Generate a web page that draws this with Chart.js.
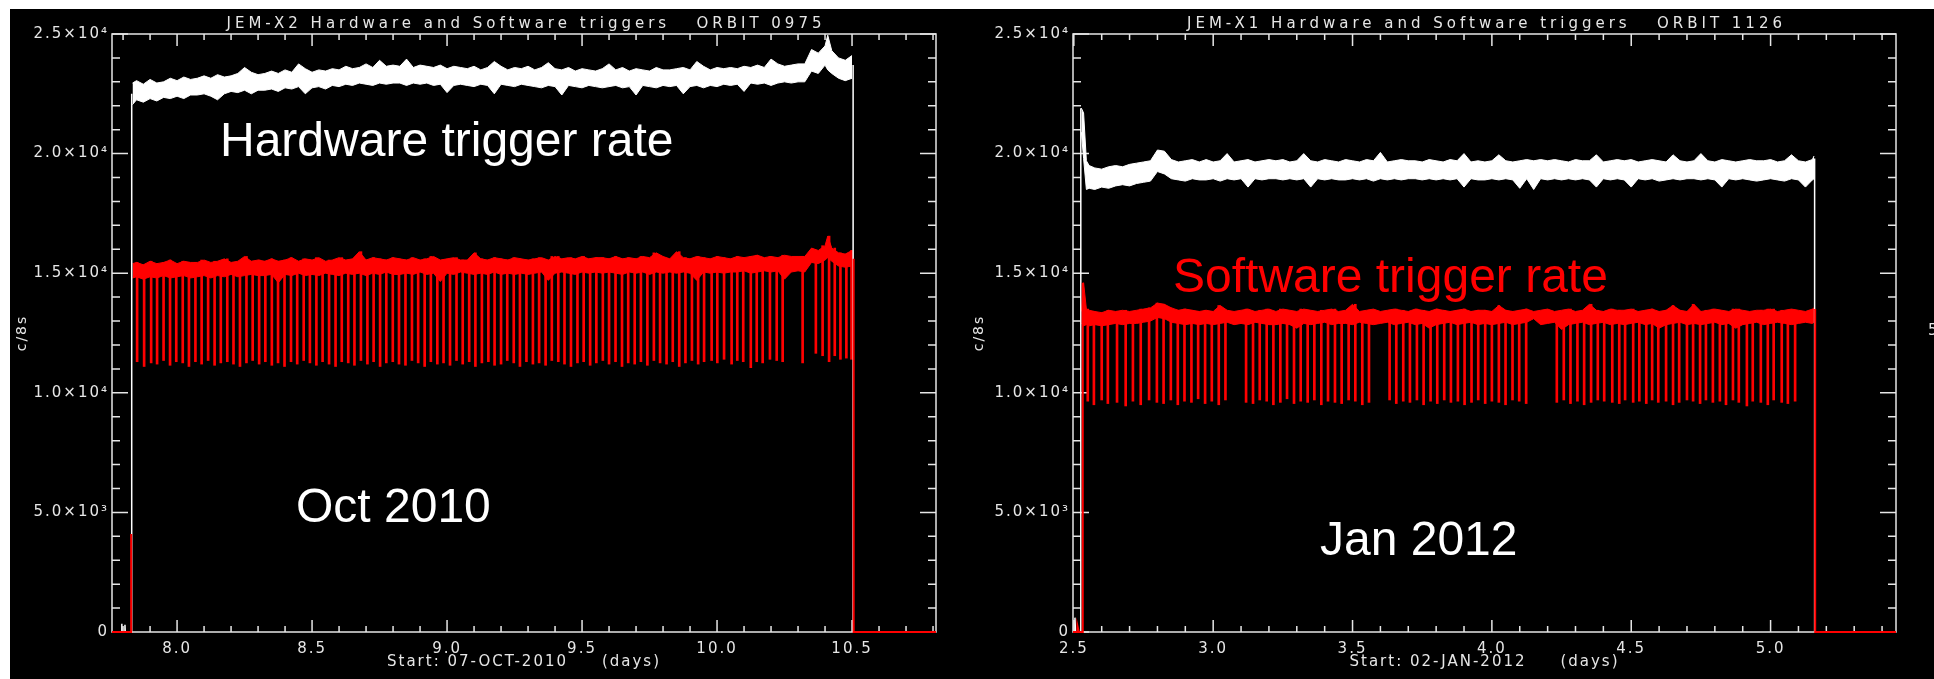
<!DOCTYPE html>
<html>
<head>
<meta charset="utf-8">
<script src="https://cdn.jsdelivr.net/npm/chart.js@4/dist/chart.umd.min.js"></script>
<style>
  html, body { margin: 0; padding: 0; background: #fff; width: 1934px; height: 679px; overflow: hidden; position: relative; font-family: 'Liberation Sans', Arial, sans-serif; }
  .panel-bg { position: absolute; left: 10px; top: 9px; right: 0; bottom: 0; background: #000; }
  canvas { position: absolute; }
  .note { position: absolute; font-size: 48px; line-height: 48px; white-space: nowrap; color: #fff; }
  .cut { position: absolute; left: 1928px; top: 321px; font: 15px 'DejaVu Sans', sans-serif; color: #e6e6e6; }
</style>
</head>
<body>
<div class="panel-bg"></div>
<canvas id="leftChart" width="957" height="670" style="left:10px;top:9px"></canvas>
<canvas id="rightChart" width="967" height="670" style="left:967px;top:9px"></canvas>
<div class="note" style="left:220px;top:116px">Hardware trigger rate</div>
<div class="note" style="left:296px;top:482px">Oct 2010</div>
<div class="note" style="left:1173px;top:252px;color:#ff0000">Software trigger rate</div>
<div class="note" style="left:1320px;top:515px">Jan 2012</div>
<div class="cut">5</div>
<script>
// ---- left panel: JEM-X2, orbit 0975 ----
const leftDays = [
  7.835, 7.85, 7.875, 7.9, 7.925, 7.95, 7.975, 8.0, 8.025, 8.05,
  8.075, 8.1, 8.125, 8.15, 8.175, 8.2, 8.225, 8.25, 8.275, 8.3,
  8.325, 8.35, 8.375, 8.4, 8.425, 8.45, 8.475, 8.5, 8.525, 8.55,
  8.575, 8.6, 8.625, 8.65, 8.675, 8.7, 8.725, 8.75, 8.775, 8.8,
  8.825, 8.85, 8.875, 8.9, 8.925, 8.95, 8.975, 9.0, 9.025, 9.05,
  9.075, 9.1, 9.125, 9.15, 9.175, 9.2, 9.225, 9.25, 9.275, 9.3,
  9.325, 9.35, 9.375, 9.4, 9.425, 9.45, 9.475, 9.5, 9.525, 9.55,
  9.575, 9.6, 9.625, 9.65, 9.675, 9.7, 9.725, 9.75, 9.775, 9.8,
  9.825, 9.85, 9.875, 9.9, 9.925, 9.95, 9.975, 10.0, 10.025, 10.05,
  10.075, 10.1, 10.125, 10.15, 10.175, 10.2, 10.225, 10.25, 10.275, 10.3,
  10.325, 10.35, 10.375, 10.4, 10.41, 10.425, 10.45, 10.475, 10.5
];
const leftHwHi = [
  22950, 23050, 22900, 23100, 22950, 23000, 23150, 23050, 23200, 23100,
  23150, 23250, 23150, 23300, 23200, 23250, 23350, 23600, 23400, 23300,
  23350, 23450, 23350, 23500, 23400, 23750, 23550, 23400, 23500, 23450,
  23550, 23500, 23650, 23550, 23600, 23750, 23600, 23900, 23650, 23700,
  23650, 23950, 23600, 23700, 23650, 23600, 23700, 23550, 23650, 23600,
  23550, 23650, 23500, 23600, 23850, 23650, 23500, 23600, 23550, 23650,
  23500, 23600, 23800, 23550, 23500, 23600, 23450, 23550, 23500, 23450,
  23550, 23750, 23500, 23600, 23450, 23550, 23500, 23450, 23600, 23500,
  23500, 23550, 23600, 23500, 23850, 23650, 23500, 23600, 23550, 23600,
  23550, 23650, 23600, 23700, 23600, 23950, 23750, 23650, 23700, 23750,
  23750, 24350, 24200, 24500, 24950, 24300, 24000, 23900, 24100
];
const leftHwLo = [
  22050, 22250, 22150, 22300, 22200, 22350, 22300, 22400, 22300, 22450,
  22450, 22500, 22400, 22250, 22500, 22600, 22550, 22650, 22500, 22650,
  22650, 22700, 22600, 22750, 22700, 22800, 22500, 22750, 22800, 22700,
  22850, 22800, 22900, 22850, 22950, 22900, 22850, 22950, 22900, 22950,
  22950, 22850, 22950, 22900, 22950, 22850, 22900, 22550, 22850, 22900,
  22850, 22800, 22900, 22850, 22500, 22900, 22850, 22800, 22900, 22850,
  22800, 22750, 22850, 22800, 22450, 22850, 22800, 22750, 22850, 22800,
  22750, 22800, 22850, 22750, 22800, 22450, 22850, 22800, 22750, 22850,
  22800, 22850, 22500, 22800, 22850, 22750, 22850, 22800, 22900, 22850,
  22900, 22600, 22950, 22900, 22950, 22850, 22950, 23000, 22950, 23000,
  23000, 23450, 23350, 23700, 23500, 23350, 23150, 23050, 23150
];
const leftSwHi = [
  15400, 15450, 15350, 15500, 15400, 15450, 15550, 15400, 15500, 15450,
  15450, 15550, 15450, 15500, 15600, 15450, 15500, 15700, 15500, 15550,
  15500, 15600, 15500, 15550, 15650, 15500, 15600, 15550, 15650, 15500,
  15550, 15650, 15550, 15600, 15900, 15550, 15650, 15600, 15550, 15650,
  15600, 15550, 15650, 15550, 15600, 15700, 15550, 15600, 15650, 15550,
  15550, 15850, 15600, 15550, 15650, 15600, 15550, 15650, 15600, 15550,
  15600, 15650, 15550, 15700, 15600, 15650, 15600, 15700, 15600, 15650,
  15650, 15600, 15700, 15600, 15650, 15600, 15700, 15650, 15850, 15700,
  15600, 15900, 15650, 15600, 15700, 15650, 15600, 15700, 15650, 15600,
  15700, 15650, 15700, 15750, 15650, 15700, 15650, 15750, 15700, 15700,
  15700, 16050, 15950, 16150, 16550, 16050, 15850, 15800, 15950
];
const leftSwLo = [
  14800, 14850, 14750, 14850, 14800, 14900, 14800, 14850, 14900, 14800,
  14850, 14900, 14800, 14900, 14850, 14950, 14850, 14900, 14950, 14900,
  14900, 14950, 14600, 14950, 14900, 15000, 14900, 14950, 14900, 15000,
  14950, 14900, 15000, 14950, 15000, 14900, 15000, 14950, 15050, 14950,
  14950, 15000, 14950, 15050, 14950, 15000, 14650, 15000, 14950, 15050,
  15000, 14950, 15000, 14950, 15050, 14950, 15000, 14950, 15000, 14950,
  15000, 15050, 14700, 15000, 15050, 15000, 14950, 15050, 15000, 15050,
  15000, 15050, 15000, 14950, 15050, 15000, 15050, 14950, 15050, 15000,
  15050, 15000, 15050, 15000, 14700, 15050, 15000, 15050, 15000, 15050,
  15050, 15100, 15000, 15050, 15100, 15050, 15100, 14750, 15050, 15100,
  15050, 15450, 15400, 15550, 15650, 15500, 15300, 15250, 15300
];
const leftDipDays = [
  7.852, 7.878, 7.904, 7.926, 7.950, 7.974, 7.997, 8.021, 8.044, 8.068,
  8.091, 8.115, 8.139, 8.162, 8.186, 8.209, 8.233, 8.257, 8.280, 8.304,
  8.327, 8.351, 8.374, 8.398, 8.422, 8.445, 8.469, 8.492, 8.516, 8.539,
  8.563, 8.587, 8.610, 8.634, 8.657, 8.681, 8.705, 8.728, 8.752, 8.775,
  8.799, 8.822, 8.846, 8.870, 8.893, 8.917, 8.940, 8.964, 8.987, 9.011,
  9.035, 9.058, 9.082, 9.105, 9.129, 9.153, 9.176, 9.200, 9.223, 9.247,
  9.270, 9.294, 9.318, 9.341, 9.365, 9.388, 9.412, 9.435, 9.459, 9.483,
  9.506, 9.530, 9.553, 9.577, 9.600, 9.624, 9.648, 9.671, 9.695, 9.718,
  9.742, 9.766, 9.789, 9.813, 9.836, 9.860, 9.883, 9.907, 9.930, 9.952,
  9.980, 10.001, 10.026, 10.054, 10.075, 10.097, 10.125, 10.147, 10.169, 10.196,
  10.221, 10.243, 10.317, 10.366, 10.391, 10.415, 10.436, 10.457, 10.479, 10.498
];
const leftDipLows = [
  11300, 11100, 11250, 11200, 11350, 11150, 11300, 11250, 11100, 11300,
  11200, 11350, 11150, 11250, 11300, 11200, 11100, 11250, 11350, 11200,
  11300, 11150, 11250, 11100, 11300, 11200, 11350, 11250, 11150, 11300,
  11200, 11100, 11300, 11250, 11150, 11350, 11200, 11300, 11100, 11250,
  11300, 11200, 11150, 11350, 11250, 11100, 11300, 11200, 11250, 11150,
  11350, 11200, 11300, 11100, 11250, 11300, 11150, 11200, 11350, 11250,
  11100, 11300, 11200, 11250, 11150, 11350, 11300, 11200, 11100, 11250,
  11300, 11150, 11250, 11350, 11200, 11300, 11100, 11250, 11200, 11300,
  11150, 11350, 11250, 11200, 11300, 11100, 11250, 11350, 11200, 11300,
  11350, 11250, 11400, 11200, 11350, 11300, 11050, 11300, 11250, 11400,
  11350, 11300, 11250, 11650, 11550, 11300, 11550, 11400, 11450, 11400
];
// switch-on / switch-off edges (null breaks the line)
const leftHwEdgeDays = [7.795, 7.795, 7.796, 7.807, 7.807, 7.808, 7.832, 7.832, 9.0, 10.504, 10.504];
const leftHwEdgeVals = [0, 350, 0, 0, 300, 0, 0, 22500, null, 23700, 0];
const leftSwEdgeDays = [7.759, 7.830, 7.830, 9.0, 10.506, 10.506, 10.811];
const leftSwEdgeVals = [0, 0, 4100, null, 15600, 0, 0];

// ---- right panel: JEM-X1, orbit 1126 ----
const rightDays = [
  2.527, 2.535, 2.545, 2.555, 2.575, 2.6, 2.625, 2.65, 2.675, 2.7,
  2.725, 2.75, 2.775, 2.8, 2.825, 2.85, 2.875, 2.9, 2.925, 2.95,
  2.975, 3.0, 3.025, 3.05, 3.075, 3.1, 3.125, 3.15, 3.175, 3.2,
  3.225, 3.25, 3.275, 3.3, 3.325, 3.35, 3.375, 3.4, 3.425, 3.45,
  3.475, 3.5, 3.525, 3.55, 3.575, 3.6, 3.625, 3.65, 3.675, 3.7,
  3.725, 3.75, 3.775, 3.8, 3.825, 3.85, 3.875, 3.9, 3.925, 3.95,
  3.975, 4.0, 4.025, 4.05, 4.075, 4.1, 4.125, 4.15, 4.175, 4.2,
  4.225, 4.25, 4.275, 4.3, 4.325, 4.35, 4.375, 4.4, 4.425, 4.45,
  4.475, 4.5, 4.525, 4.55, 4.575, 4.6, 4.625, 4.65, 4.675, 4.7,
  4.725, 4.75, 4.775, 4.8, 4.825, 4.85, 4.875, 4.9, 4.925, 4.95,
  4.975, 5.0, 5.025, 5.05, 5.075, 5.1, 5.125, 5.15, 5.156
];
const rightHwHi = [
  21900, 21700, 19700, 19500, 19400, 19350, 19450, 19500, 19450, 19550,
  19600, 19650, 19700, 20150, 20100, 19750, 19650, 19700, 19750, 19650,
  19750, 19650, 19700, 20000, 19650, 19700, 19750, 19650, 19700, 19750,
  19700, 19750, 19650, 19700, 20000, 19700, 19650, 19750, 19700, 19650,
  19750, 19700, 19650, 19750, 19700, 20050, 19650, 19700, 19750, 19700,
  19700, 19650, 19750, 19700, 19650, 19750, 19700, 20000, 19650, 19700,
  19650, 19700, 19950, 19700, 19650, 19700, 19750, 19700, 19750, 19700,
  19750, 19700, 19650, 19750, 19700, 19700, 19950, 19650, 19700, 19750,
  19700, 19750, 19650, 19700, 19750, 19700, 19650, 19950, 19700, 19650,
  19700, 20000, 19700, 19650, 19750, 19700, 19650, 19700, 19750, 19700,
  19700, 19750, 19650, 19700, 19950, 19700, 19650, 19750, 19900
];
const rightHwLo = [
  20900, 19800, 18500, 18550, 18500, 18600, 18550, 18650, 18700, 18650,
  18750, 18800, 18850, 19250, 19150, 18950, 18900, 18850, 18950, 18900,
  18900, 18950, 18850, 18950, 18900, 18950, 18600, 18950, 18900, 18950,
  18950, 18900, 18950, 18900, 18950, 18600, 18950, 18900, 18950, 18900,
  18900, 18950, 18900, 18950, 18850, 18950, 18900, 18950, 18900, 18950,
  18950, 18900, 18950, 18900, 18950, 18900, 18950, 18600, 18950, 18900,
  18900, 18950, 18900, 18950, 18900, 18550, 18950, 18500, 18950, 18900,
  18950, 18900, 18950, 18900, 18950, 18900, 18600, 18950, 18900, 18950,
  18900, 18600, 18950, 18900, 18950, 18850, 18900, 18950, 18900, 18950,
  18950, 18900, 18950, 18900, 18600, 18950, 18900, 18950, 18900, 18850,
  18900, 18950, 18900, 18850, 18950, 18900, 18600, 18900, 18950
];
const rightSwHi = [
  13400, 14600, 13500, 13450, 13400, 13350, 13450, 13400, 13450, 13400,
  13450, 13500, 13550, 13750, 13700, 13550, 13450, 13500, 13450, 13400,
  13450, 13400, 13650, 13450, 13400, 13450, 13500, 13400, 13450, 13500,
  13400, 13500, 13450, 13400, 13500, 13450, 13400, 13450, 13500, 13400,
  13450, 13700, 13400, 13450, 13500, 13400, 13450, 13500, 13450, 13400,
  13500, 13450, 13400, 13500, 13450, 13400, 13450, 13500, 13400, 13450,
  13450, 13400, 13650, 13450, 13400, 13450, 13500, 13400, 13450, 13500,
  13400, 13450, 13500, 13400, 13450, 13700, 13450, 13400, 13500, 13450,
  13450, 13500, 13400, 13450, 13500, 13400, 13450, 13650, 13450, 13400,
  13700, 13400, 13450, 13500, 13450, 13400, 13500, 13450, 13400, 13450,
  13450, 13500, 13400, 13450, 13500, 13450, 13400, 13500, 13550
];
const rightSwLo = [
  12900, 12800, 12850, 12800, 12850, 12800, 12850, 12900, 12850, 12900,
  12900, 12950, 13000, 13150, 13100, 12950, 12900, 12850, 12900, 12850,
  12900, 12850, 12900, 12950, 12850, 12900, 12850, 12950, 12900, 12850,
  12850, 12900, 12850, 12700, 12900, 12850, 12900, 12950, 12850, 12900,
  12900, 12850, 12950, 12900, 12850, 12900, 12950, 12850, 12900, 12950,
  12850, 12900, 12700, 12850, 12900, 12950, 12850, 12900, 12950, 12850,
  12900, 12850, 12900, 12950, 12850, 12900, 12950, 13100, 12850, 12900,
  12950, 12650, 12850, 12900, 12950, 12850, 12900, 12950, 12850, 12900,
  12850, 12900, 12950, 12850, 12900, 12700, 12850, 12900, 12950, 12850,
  12900, 12850, 12900, 12950, 12850, 12900, 12700, 12850, 12900, 12950,
  12850, 12900, 12950, 12900, 12850, 12900, 12950, 12900, 12950
];
const rightDipDays = [
  2.550, 2.572, 2.600, 2.622, 2.655, 2.686, 2.712, 2.740, 2.770, 2.798,
  2.822, 2.848, 2.873, 2.897, 2.922, 2.946, 2.971, 2.995, 3.020, 3.044,
  3.118, 3.143, 3.167, 3.192, 3.216, 3.241, 3.265, 3.290, 3.314, 3.339,
  3.363, 3.388, 3.412, 3.437, 3.461, 3.486, 3.510, 3.535, 3.559, 3.633,
  3.657, 3.682, 3.706, 3.731, 3.755, 3.780, 3.804, 3.829, 3.853, 3.878,
  3.902, 3.927, 3.951, 3.976, 4.000, 4.025, 4.049, 4.074, 4.098, 4.123,
  4.233, 4.258, 4.282, 4.307, 4.331, 4.356, 4.380, 4.403, 4.432, 4.457,
  4.478, 4.507, 4.529, 4.554, 4.575, 4.597, 4.625, 4.650, 4.672, 4.700,
  4.722, 4.747, 4.768, 4.793, 4.818, 4.840, 4.865, 4.886, 4.915, 4.936,
  4.965, 4.990, 5.011, 5.040, 5.062, 5.088
];
const rightDipLows = [
  9650, 9500, 9700, 9550, 9600, 9450, 9650, 9500, 9700, 9600,
  9550, 9700, 9500, 9650, 9600, 9750, 9550, 9650, 9500, 9700,
  9600, 9550, 9700, 9650, 9500, 9600, 9750, 9550, 9650, 9600,
  9700, 9500, 9650, 9600, 9550, 9700, 9650, 9500, 9600, 9700,
  9550, 9650, 9600, 9700, 9500, 9650, 9550, 9700, 9600, 9650,
  9500, 9600, 9700, 9550, 9650, 9600, 9500, 9700, 9650, 9550,
  9600, 9700, 9550, 9650, 9500, 9600, 9700, 9650, 9600, 9550,
  9700, 9600, 9650, 9550, 9700, 9600, 9650, 9500, 9600, 9700,
  9650, 9550, 9700, 9600, 9650, 9500, 9700, 9600, 9450, 9650,
  9600, 9500, 9700, 9600, 9550, 9650
];
const rightHwEdgeDays = [2.503, 2.504, 2.506, 2.525, 2.525, 4.0, 5.158, 5.158];
const rightHwEdgeVals = [0, 600, 0, 0, 21900, null, 19800, 0];
const rightSwEdgeDays = [2.497, 2.512, 2.513, 2.518, 2.532, 2.532, 4.0, 5.160, 5.160, 5.45];
const rightSwEdgeVals = [0, 0, 250, 0, 0, 14600, null, 13500, 0, 0];

const yTickLabels = ['0', '5.0×10³', '1.0×10⁴', '1.5×10⁴', '2.0×10⁴', '2.5×10⁴'];

const RED = '#ff0000';
const WHITE = '#ffffff';
const AXIS = '#e6e6e6';
const FONT = "'DejaVu Sans', sans-serif";

Chart.defaults.font.family = FONT;
Chart.defaults.color = AXIS;

// IDL style frame: box on all four sides, inward ticks, wide-spaced title
const idlFrame = {
  id: 'idlFrame',
  beforeDraw(chart) {
    chart.ctx.letterSpacing = '2px';
  },
  beforeDatasetsDraw(chart) {
    const { ctx, chartArea: a, scales: { x, y } } = chart;
    ctx.save();
    ctx.strokeStyle = AXIS;
    ctx.lineWidth = 1.5;
    ctx.strokeRect(a.left, a.top, a.right - a.left, a.bottom - a.top);
    ctx.beginPath();
    for (let v = Math.ceil(x.min * 10 - 1e-6); v <= x.max * 10 + 1e-6; v++) {
      const px = x.getPixelForValue(v / 10);
      const len = v % 5 === 0 ? 12 : 6;
      ctx.moveTo(px, a.bottom); ctx.lineTo(px, a.bottom - len);
      ctx.moveTo(px, a.top); ctx.lineTo(px, a.top + len);
    }
    for (let v = 0; v <= 25; v++) {
      const py = y.getPixelForValue(v * 1000);
      const len = v % 5 === 0 ? 16 : 8;
      ctx.moveTo(a.left, py); ctx.lineTo(a.left + len, py);
      ctx.moveTo(a.right, py); ctx.lineTo(a.right - len, py);
    }
    ctx.stroke();
    ctx.restore();
  },
  afterDraw(chart, args, opts) {
    const { ctx, chartArea: a } = chart;
    ctx.save();
    ctx.letterSpacing = '4px';
    ctx.font = "15px " + FONT;
    ctx.fillStyle = AXIS;
    ctx.textAlign = 'center';
    ctx.textBaseline = 'alphabetic';
    ctx.fillText(opts.text, (a.left + a.right) / 2 + 2, a.top - 6);
    ctx.restore();
  }
};

function buildPanel(canvasId, p) {
  const pts = (days, vals) => days.map((d, i) => ({ x: d, y: vals[i] }));
  // dips hang from the software band: top of the bar at the nearest band sample
  const bandTop = (d) => {
    let best = 0;
    p.days.forEach((v, i) => { if (Math.abs(v - d) < Math.abs(p.days[best] - d)) best = i; });
    return p.swHi[best];
  };

  return new Chart(document.getElementById(canvasId), {
    type: 'line',
    data: {
      datasets: [
        { data: pts(p.swEdgeDays, p.swEdgeVals), borderColor: RED, borderWidth: 2, order: 0, clip: false },
        { data: pts(p.hwEdgeDays, p.hwEdgeVals), borderColor: WHITE, borderWidth: 1.5, order: 1, clip: false },
        { data: pts(p.days, p.swHi), borderColor: RED, borderWidth: 1, order: 2 },
        { data: pts(p.days, p.swLo), borderColor: RED, borderWidth: 1, order: 2, fill: '-1', backgroundColor: RED },
        {
          type: 'bar',
          data: p.dipDays.map((d, i) => ({ x: d, y: [p.dipLows[i], bandTop(d)] })),
          backgroundColor: RED, borderWidth: 0, barThickness: 2, grouped: false, order: 3
        },
        { data: pts(p.days, p.hwHi), borderColor: WHITE, borderWidth: 1, order: 4 },
        { data: pts(p.days, p.hwLo), borderColor: WHITE, borderWidth: 1, order: 4, fill: '-1', backgroundColor: WHITE }
      ]
    },
    options: {
      responsive: false,
      animation: false,
      events: [],
      elements: { point: { radius: 0 }, line: { tension: 0 } },
      layout: { padding: { left: 0, right: p.padRight, top: 25, bottom: 0 } },
      plugins: {
        legend: { display: false },
        tooltip: { enabled: false },
        title: { display: false },
        idlFrame: { text: p.title }
      },
      scales: {
        x: {
          type: 'linear',
          min: p.xMin,
          max: p.xMax,
          offset: false,
          grid: { display: false, drawTicks: false },
          border: { display: false },
          ticks: {
            stepSize: 0.5,
            includeBounds: false,
            autoSkip: false,
            maxRotation: 0,
            padding: 8,
            font: { size: 15 },
            callback: (v) => v.toFixed(1)
          },
          title: { display: true, text: p.xTitle, font: { size: 15 }, padding: { top: 0, bottom: 8 } },
          afterFit: (s) => { s.height = 47; }
        },
        y: {
          min: 0,
          max: 25000,
          grid: { display: false, drawTicks: false },
          border: { display: false },
          ticks: {
            stepSize: 5000,
            padding: 3,
            font: { size: 15 },
            callback: (v) => yTickLabels[Math.round(v / 5000)]
          },
          title: { display: true, text: 'c/8s', font: { size: 14 }, padding: { top: 4, bottom: 0 } },
          afterFit: (s) => { s.width = p.axisWidth; }
        }
      }
    },
    plugins: [idlFrame]
  });
}

buildPanel('leftChart', {
  title: 'JEM-X2 Hardware and Software triggers   ORBIT 0975',
  xTitle: 'Start: 07-OCT-2010     (days)',
  xMin: 7.759, xMax: 10.811,
  axisWidth: 102, padRight: 31,
  days: leftDays, hwHi: leftHwHi, hwLo: leftHwLo, swHi: leftSwHi, swLo: leftSwLo,
  dipDays: leftDipDays, dipLows: leftDipLows,
  hwEdgeDays: leftHwEdgeDays, hwEdgeVals: leftHwEdgeVals,
  swEdgeDays: leftSwEdgeDays, swEdgeVals: leftSwEdgeVals
});

buildPanel('rightChart', {
  title: 'JEM-X1 Hardware and Software triggers   ORBIT 1126',
  xTitle: 'Start: 02-JAN-2012     (days)',
  xMin: 2.497, xMax: 5.45,
  axisWidth: 106, padRight: 38,
  days: rightDays, hwHi: rightHwHi, hwLo: rightHwLo, swHi: rightSwHi, swLo: rightSwLo,
  dipDays: rightDipDays, dipLows: rightDipLows,
  hwEdgeDays: rightHwEdgeDays, hwEdgeVals: rightHwEdgeVals,
  swEdgeDays: rightSwEdgeDays, swEdgeVals: rightSwEdgeVals
});
</script>
</body>
</html>
